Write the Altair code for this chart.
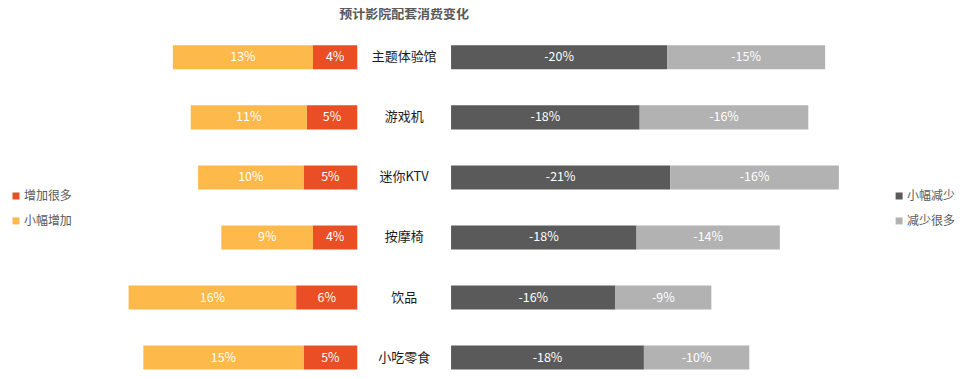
import altair as alt
import pandas as pd

cats = ["主题体验馆", "游戏机", "迷你KTV", "按摩椅", "饮品", "小吃零食"]
inc_small = [13.3, 11.0, 10.0, 8.7, 15.9, 15.2]
inc_big = [4.2, 4.8, 5.1, 4.2, 5.8, 5.1]
dec_small = [-20.5, -17.9, -20.8, -17.6, -15.6, -18.3]
dec_big = [-15.0, -16.0, -16.0, -13.6, -9.1, -10.0]

left_series = ["增加很多", "小幅增加"]
left_colors = ["#E94E24", "#FDB94A"]
right_series = ["小幅减少", "减少很多"]
right_colors = ["#5A5A5A", "#B2B2B2"]

FONT = "Noto Sans CJK SC"
K = 10.56  # px per percent
WL, WC, WR, H = 350, 94, 504, 325

rows_l, rows_r = [], []
for i, c in enumerate(cats):
    rows_l.append({"cat": c, "series": "增加很多", "val": inc_big[i], "ord": 0})
    rows_l.append({"cat": c, "series": "小幅增加", "val": inc_small[i], "ord": 1})
    rows_r.append({"cat": c, "series": "小幅减少", "val": dec_small[i], "ord": 0})
    rows_r.append({"cat": c, "series": "减少很多", "val": dec_big[i], "ord": 1})
df_l = pd.DataFrame(rows_l)
df_r = pd.DataFrame(rows_r)
df_c = pd.DataFrame({"cat": cats})

yband = alt.Y("cat:N", sort=cats, axis=None, scale=alt.Scale(paddingInner=0.6, paddingOuter=0))
ypoint = alt.Y("cat:N", sort=cats, axis=None, scale=alt.Scale(type="point", padding=0.2))


def side(df, width, series, colors, reverse, legend_x):
    base = alt.Chart(df).transform_calculate(
        v="abs(datum.val)", label="round(datum.val) + '%'"
    ).transform_stack(
        stack="v", groupby=["cat"], sort=[alt.SortField("ord")], as_=["v0", "v1"]
    ).transform_calculate(mid="(datum.v0 + datum.v1) / 2")
    xs = alt.Scale(domain=[0, width / K], reverse=reverse, nice=False, zero=False)
    bars = base.mark_bar().encode(
        y=yband,
        x=alt.X("v0:Q", scale=xs, axis=None),
        x2="v1:Q",
        color=alt.Color(
            "series:N",
            scale=alt.Scale(domain=series, range=colors),
            legend=alt.Legend(
                orient="none", legendX=legend_x, legendY=145, title=None,
                symbolType="square", symbolSize=49, symbolStrokeWidth=0,
                labelFontSize=12, labelColor="#595959", labelFont=FONT,
                rowPadding=13, labelOffset=2,
            ),
        ),
    )
    texts = base.mark_text(color="white", fontSize=12.5, font=FONT).encode(
        y=yband, x=alt.X("mid:Q", scale=xs, axis=None), text="label:N"
    )
    return alt.layer(bars, texts).properties(width=width, height=H)


left = side(df_l, WL, left_series, left_colors, True, 2)
right = side(df_r, WR, right_series, right_colors, False, 443)
center = alt.Chart(df_c).mark_text(fontSize=13, font=FONT, color="#1a1a1a").encode(
    y=ypoint, x=alt.value(WC / 2), text="cat:N"
).properties(width=WC, height=H)

chart = alt.hconcat(left, center, right, spacing=0).resolve_scale(
    color="independent", x="independent", y="independent"
).properties(
    padding=0,
    title=alt.TitleParams(
        "预计影院配套消费变化", anchor="start", dx=332, fontSize=13,
        fontWeight="bold", color="#595959", font=FONT, offset=24,
    ),
).configure_view(stroke=None)

chart.save("out.html", embed_options={"renderer": "svg", "actions": False})
